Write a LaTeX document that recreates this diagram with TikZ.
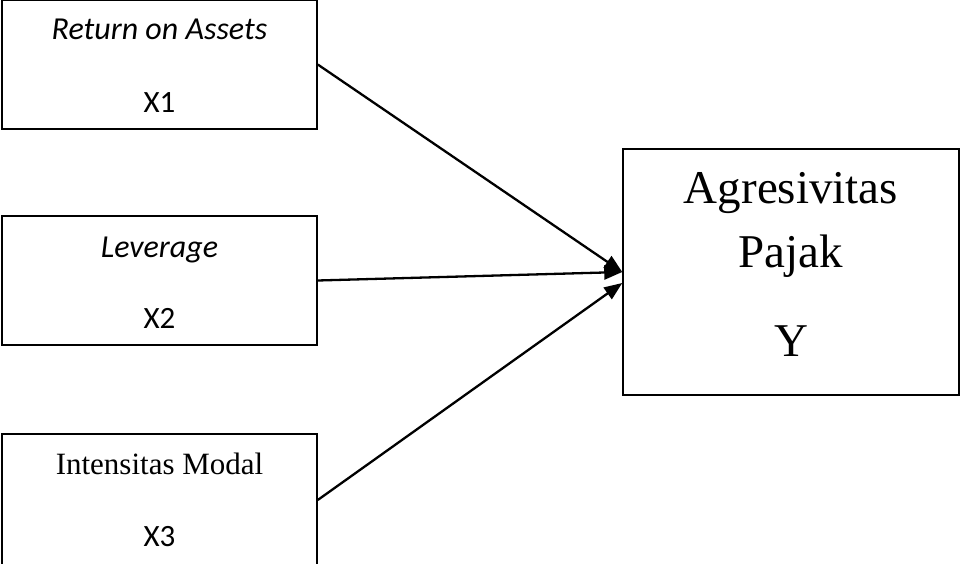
\documentclass[tikz,border=0pt]{standalone}
\usepackage{fontspec}
\setmainfont{Liberation Serif}
\newfontfamily\calibri{Carlito}
\usepackage{tikz}
\usetikzlibrary{arrows.meta}

\begin{document}
\begin{tikzpicture}[x=1pt, y=-1pt,
  varbox/.style={draw, line width=1.5pt, inner sep=0pt, minimum width=315pt},
  vname/.style={anchor=base, inner sep=0pt, font=\calibri\itshape\fontsize{32}{36}\selectfont},
  vcode/.style={anchor=base, inner sep=0pt, font=\calibri\fontsize{31}{36}\selectfont},
  bigtext/.style={anchor=base, inner sep=0pt, font=\fontsize{47}{52}\selectfont},
  link/.style={line width=2.3pt, -{Triangle[length=18pt,width=14pt]}}]

  \newcommand\Lx{159.5}
  \newcommand\Rx{791}

  \useasboundingbox (0,0) rectangle (960,564);

  % independent variables
  \node[varbox, minimum height=129pt] (roa) at (\Lx, 64.5) {};
  \node[vname] (roaname) at (\Lx, 40) {Return on Assets};
  \node[vcode] (roacode) at (\Lx, 113) {X1};

  \node[varbox, minimum height=129pt] (lev) at (\Lx, 280.5) {};
  \node[vname] (levname) at (\Lx, 257) {Leverage};
  \node[vcode] (levcode) at (\Lx, 328) {X2};

  \node[varbox, minimum height=132pt] (im) at (\Lx, 500) {};
  \node[anchor=base, inner sep=0pt, font=\fontsize{31}{36}\selectfont] (imname) at (\Lx, 474) {Intensitas Modal};
  \node[vcode] (imcode) at (\Lx, 546) {X3};

  % dependent variable
  \node[draw, line width=1.5pt, inner sep=0pt, minimum width=336pt, minimum height=246pt] (ap) at (\Rx, 272) {};
  \node[bigtext] (apname1) at (\Rx, 203) {Agresivitas};
  \node[bigtext] (apname2) at (\Rx, 267) {Pajak};
  \node[bigtext] (apcode) at (\Rx, 356) {Y};

  \draw[link] (roa.east) -- (ap.west);
  \draw[link] (lev.east) -- (ap.west);
  \draw[link] (im.east) -- ([yshift=-11pt]ap.west);

\end{tikzpicture}
\end{document}
